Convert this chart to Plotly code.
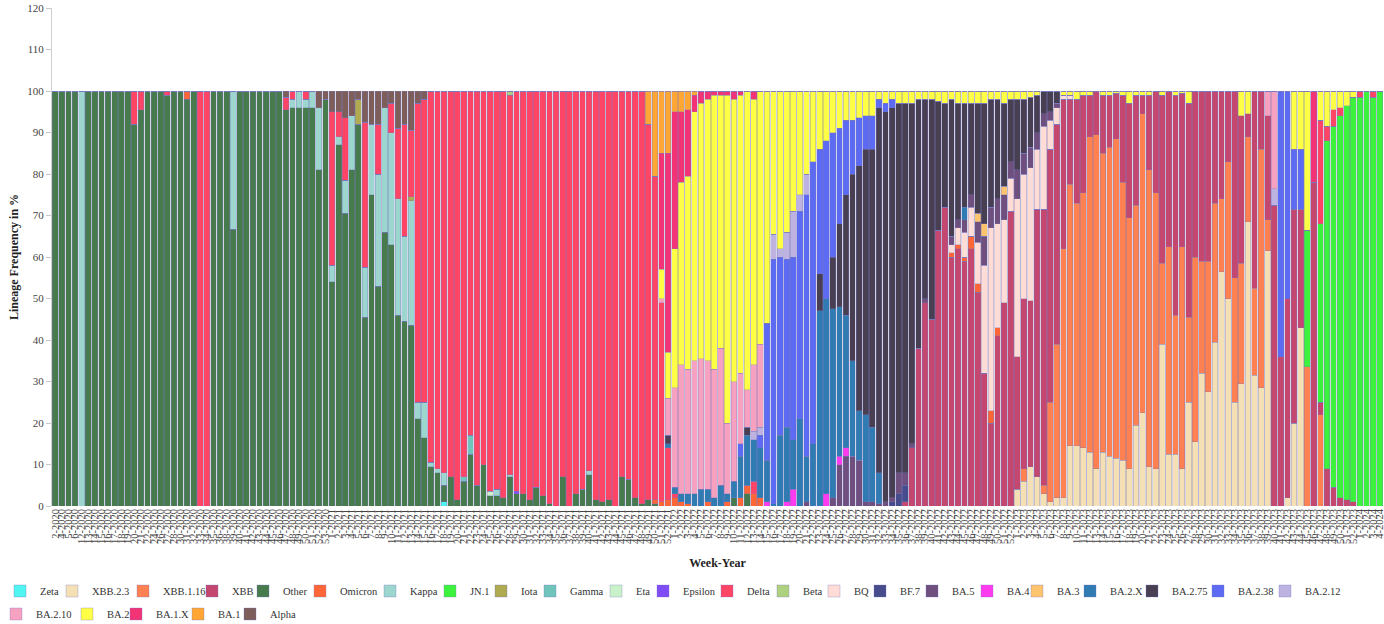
import plotly.graph_objects as go

# ---------------- categories (week-year) ----------------
WEEKS_2020 = [2, 4, 5, 6, 12, 13, 14, 15, 16, 17, 18, 19, 20, 21, 22, 24, 26, 27, 28, 30, 31, 32, 33, 34,
              35, 36, 38, 39, 40, 41, 42, 43, 44, 45, 46, 47, 48, 49, 50, 51, 52, 53]
WEEKS_2021 = list(range(1, 53))
WEEKS_2022 = list(range(1, 53))
WEEKS_2023 = list(range(1, 53))
WEEKS_2024 = [1, 2, 3, 4]
WEEK_LABELS = ([f"{w}-2020" for w in WEEKS_2020] + [f"{w}-2021" for w in WEEKS_2021] +
               [f"{w}-2022" for w in WEEKS_2022] + [f"{w}-2023" for w in WEEKS_2023] +
               [f"{w}-2024" for w in WEEKS_2024])

# ---------------- lineage frequencies (%) ----------------
ZETA = [0] * 59 + [1] + [0] * 142
XBB_2_3 = ([0] * 146 + [4, 6, 9.5, 7, 3, 1, 2, 2, 14.5, 14.5, 14, 13, 9, 13, 12, 11.5, 11, 9, 19.5, 22.5, 9.5, 9,
                        39, 12.5, 12.5, 9, 25, 15.5, 32, 27.5, 39.5, 56.5, 50, 25, 29.5, 68.5, 31.5, 28.5, 61.5,
                        0, 0, 2, 20, 43] + [0] * 12)
XBB_1_16 = ([0] * 147 + [3, 0, 0, 2, 24, 37, 60, 63, 58.5, 61.5, 76, 80.5, 72, 74.5, 77, 67, 60.5, 53, 72, 71.5,
                         66.5, 19.5, 50, 33.5, 53.5, 20.5, 44.5, 27, 31.5, 33.5, 17.5, 33, 30, 29, 20.5, 21,
                         57.5, 7.5] + [0] * 5 + [33.5, 0, 22] + [0] * 9)
XBB = ([0] * 129 + [1, 14, 38, 49, 45, 66.5, 72, 60, 62, 59, 62, 51.5, 32, 20, 41, 49, 71, 32, 41, 40, 64.5,
                    66.5, 61, 53, 36, 20.5, 25, 23.5, 10, 10.5, 14, 12.5, 11, 21, 27.5, 26.5, 4.5, 18, 24.5,
                    40.5, 37.5, 53, 37, 51.5, 40, 41, 41, 27, 26, 17, 45, 35.5, 5.5, 47.5, 14, 25, 72.5, 36,
                    48, 51.5, 28.5, 0, 78, 3, 9, 4.5, 2, 1.5, 1] + [0] * 4)
OTHER = ([100, 100, 100, 100, 0, 100, 100, 100, 100, 100, 100, 100, 92, 95.5, 100, 100, 100, 99, 100, 100, 98,
          100, 0, 0, 100, 100, 100, 66.7, 100, 100, 100, 100, 100, 100, 100, 95.5, 96, 96, 96, 96, 81, 98,
          54, 87, 70.5, 81, 92, 45.5, 75, 53, 66, 63, 46, 44.5, 43.5, 21, 16.5, 9.5, 8, 4, 7, 1.5, 6, 12.5, 5,
          10, 2.5, 2.5, 2, 7, 3, 3, 1.5, 4.5, 2.5, 0.5, 0, 7, 0, 3, 4, 7.5, 1.5, 1, 1.5, 0, 7, 6.5, 2, 0.5,
          1.5, 0.5] + [0] * 11 + [2, 0, 3] + [0] * 96)
OMICRON = ([0] * 20 + [2] + [0] * 70 + [1, 1, 1.5, 2, 1, 0.5, 0, 0, 1, 0, 0, 1, 0, 2, 2, 3, 2] + [0] * 28 +
           [1, 1, 1, 3, 2, 0, 3, 2] + [0] * 58)
KAPPA = ([0] * 4 + [100] + [0] * 22 + [33.3] + [0] * 8 +
         [2, 4, 2, 4, 15, 0, 4, 2, 8, 13, 0, 12, 17, 27, 30, 27, 28, 20.5, 30, 4, 8.5, 1, 1, 3] +
         [0] * 7 + [1.5, 0, 0.5] + [0] * 11 + [1] + [0] * 120)
JN_1 = [0] * 190 + [33, 0, 43, 79, 87, 92, 95, 97.5, 98.5, 100, 98.5, 100]
IOTA = [0] * 46 + [6] + [0] * 7 + [1] + [0] * 147
GAMMA = [0] * 62 + [1, 4.5] + [0] * 138
ETA = [0] * 66 + [1] + [0] * 135
EPSILON = [0] * 70 + [0.5] + [0] * 131
DELTA = ([0] * 12 + [8, 4.5, 0, 0, 0, 1, 0, 0, 0, 0, 100, 100] + [0] * 11 + [3, 2, 0, 2] + [0] * 3 +
         [37, 6, 15, 0, 0, 35, 0, 12, 0, 7, 17, 27, 16, 72, 73, 89.5, 91, 92, 93, 98.5, 93, 83, 95, 90, 96.5,
          96, 98, 91.5, 96.5, 97, 98.5, 95.5, 97.5, 99.5, 100, 93, 100, 97, 96, 91.5, 98.5, 99, 98.5, 100, 93,
          93.5, 98, 99.5, 90.5, 78, 48, 12.5, 1] +
         [0] * 11 + [3] + [0] * 85 + [25, 3.5, 4, 2, 0, 0, 1.5, 0, 1.5, 0])
BETA = [0] * 69 + [1] + [0] * 132
BQ = [0] * 136 + [2, 4, 6, 7, 10, 26, 44, 25, 20, 8, 38, 30, 32, 14.5, 20, 7, 4, 1, 1] + [0] * 47
BF_7 = [0] * 127 + [1, 3, 4] + [0] * 72
BA_5 = ([0] * 114 + [1, 0, 0, 0, 2, 10, 12, 12, 11, 1, 1, 0.5, 1, 1, 5, 3, 1, 0, 1, 0, 0, 0, 2, 2, 3, 3, 5, 7,
                     5, 6, 6, 4, 7, 5, 5, 4, 3, 2, 1] + [0] * 49)
BA_4 = [0] * 108 + [1, 0, 0, 1, 4, 0, 0, 0, 0, 3, 0, 2, 2] + [0] * 81
BA_3 = [0] * 140 + [2, 3, 0, 0, 2] + [0] * 57
BA_2_X = ([0] * 93 + [1, 1.5, 2, 2.5, 3, 4, 3, 2, 5, 2, 4, 10, 12, 10, 12, 10, 0.5, 17, 18, 12, 21, 11, 15, 47,
                      47, 45.5, 36, 32, 23, 12, 21, 18, 7.5] + [0] * 12 + [3] + [0] * 63)
BA_2_75 = ([0] * 93 + [2] + [0] * 11 + [2] + [0] * 10 +
           [9, 0, 12.5, 20, 29, 45, 59, 64, 67, 88, 94, 94, 89, 89, 82, 60, 48, 53, 31, 25, 33, 28, 25, 22,
            26.5, 29, 26, 24, 20, 15, 17, 13, 12, 9, 5.5, 5, 3] + [0] * 49)
BA_2_38 = ([0] * 104 + [3, 0, 0, 3, 33, 59, 43, 40.5, 44, 50, 63, 68, 30, 38, 30, 23, 18, 13, 11.5, 8, 8, 2, 2,
                        2] + [0] * 58 + [64, 50, 14.5, 14.5] + [0] * 12)
BA_2_12 = [0] * 106 + [2, 2, 0, 6, 2, 6.5, 11, 4, 5] + [0] * 70 + [4] + [0] * 16
BA_2_10 = ([0] * 92 + [1, 9, 24, 31, 30, 32, 31.5, 31, 31, 33, 17, 24, 17, 9, 16, 20] + [0] * 76 + [6, 23.5] +
           [0] * 16)
BA_2 = ([0] * 92 + [7, 11, 33.5, 44, 46.5, 60, 61.5, 63, 66, 61, 79, 68, 67, 72, 64, 61, 56, 34.5, 38, 34, 29,
                    25, 20, 17, 14, 12, 10, 9, 7, 7, 6.5, 6, 6, 2, 3, 2, 3, 3, 3, 2, 2, 2, 2.5, 3, 2, 3, 3, 3,
                    3, 3, 2, 2, 3, 2, 2, 2, 1.5, 1, 0, 0, 0, 1, 1, 2, 1, 1, 0, 1, 1, 0.5, 1, 3, 1, 1, 1, 0, 1,
                    0, 1, 0.5, 3] + [0] * 7 + [6, 5.5] + [0] * 6 + [14, 14, 33.5, 0, 7, 8.5, 4.5, 4, 3.5, 1.5] +
        [0] * 4)
BA_1_X = [0] * 92 + [28, 48, 33, 17, 16, 4, 3, 2, 1, 1, 1, 2, 1, 0, 2] + [0] * 84 + [22] + [0] * 10
BA_1 = [0] * 90 + [8, 20.5, 15, 15, 5, 5, 4.5, 1] + [0] * 104
ALPHA = [0] * 35 + [1.5] + [0] * 4 + [4, 2, 5, 5, 6.5, 6, 2, 7.5, 8, 8, 4, 3, 9, 8, 9.5, 3, 2] + [0] * 145

# stacking order (bottom -> top), same as legend order
SERIES_NAMES = ["Zeta", "XBB.2.3", "XBB.1.16", "XBB", "Other", "Omicron", "Kappa", "JN.1", "Iota", "Gamma",
                "Eta", "Epsilon", "Delta", "Beta", "BQ", "BF.7", "BA.5", "BA.4", "BA.3", "BA.2.X", "BA.2.75",
                "BA.2.38", "BA.2.12", "BA.2.10", "BA.2", "BA.1.X", "BA.1", "Alpha"]
SERIES_VALUES = [ZETA, XBB_2_3, XBB_1_16, XBB, OTHER, OMICRON, KAPPA, JN_1, IOTA, GAMMA, ETA, EPSILON, DELTA,
                 BETA, BQ, BF_7, BA_5, BA_4, BA_3, BA_2_X, BA_2_75, BA_2_38, BA_2_12, BA_2_10, BA_2, BA_1_X,
                 BA_1, ALPHA]

# ---------------- styles ----------------
COLORS = ["#4ff5f0", "#f5e0b5", "#ff8050", "#c4476f", "#477a4d", "#ff6637", "#9cd6ce", "#3df23d", "#b0aa50",
          "#6fc5bb", "#c9f2c9", "#7f4cf5", "#ff4566", "#add17f", "#ffdcd6", "#474c8c", "#6e4f7d", "#ff3bf0",
          "#ffc46e", "#317bb3", "#483f52", "#5c6bf2", "#bdb2e0", "#f7a1c0", "#ffff45", "#f23375", "#ffa635",
          "#7d5e5a"]
# legend entry layout: (swatch left in px, row centre in px)
LEGEND_SPOTS = [(20, 591), (72, 591), (143, 591), (212, 591), (263, 591), (320, 591), (390, 591), (450, 591),
                (501, 591), (550, 591), (616, 591), (663, 591), (727, 591), (783, 591), (834, 591), (880, 591),
                (932, 591), (987, 591), (1037, 591), (1090, 591), (1152, 591), (1218, 591), (1285, 591),
                (16, 614), (87, 614), (136, 614), (198, 614), (250, 614)]

W, H = 1384, 624
ML, MR, MT, MB = 52, 1, 8, 118
PW, PH = W - ML - MR, H - MT - MB

N = len(WEEK_LABELS)
for nm, vals in zip(SERIES_NAMES, SERIES_VALUES):
    assert len(vals) == N, (nm, len(vals), N)

fig = go.Figure()
legend_layouts = {}
for i, (nm, vals, col) in enumerate(zip(SERIES_NAMES, SERIES_VALUES, COLORS)):
    lid = "legend" if i == 0 else f"legend{i + 1}"
    fig.add_trace(go.Bar(
        x=WEEK_LABELS, y=vals, name=nm, legend=lid,
        marker=dict(color=col, line=dict(color="rgba(120,120,190,0.55)", width=0.6)),
    ))
    sx, sy = LEGEND_SPOTS[i]
    legend_layouts[lid] = dict(
        x=(sx - 20 - ML) / PW, xanchor="left",
        y=(H - MB - sy) / PH, yanchor="middle",
        orientation="h", bgcolor="rgba(0,0,0,0)", itemwidth=30,
        font=dict(family="Liberation Serif", size=10.5, color="#333"),
    )

fig.update_layout(
    width=W, height=H,
    barmode="stack", bargap=0.12,
    margin=dict(l=ML, r=MR, t=MT, b=MB, autoexpand=False),
    plot_bgcolor="white", paper_bgcolor="white",
    font=dict(family="Liberation Serif", size=11, color="#444"),
    showlegend=True,
    **legend_layouts,
)
fig.update_xaxes(
    type="category", tickmode="array", tickvals=WEEK_LABELS, ticktext=WEEK_LABELS,
    tickangle=-90, tickfont=dict(size=10.5, color="#444"),
    showgrid=False, showline=False, zeroline=False, ticks="",
    title=dict(text="<b>Week-Year</b>", font=dict(size=12, color="#222")),
    automargin=False,
)
fig.update_yaxes(
    range=[0, 120], dtick=10, tick0=0,
    showgrid=False, zeroline=False, showline=True, linecolor="#d0d0d0", linewidth=1,
    ticks="outside", ticklen=5, tickcolor="#c8c8c8",
    tickfont=dict(size=11, color="#444"),
    title=dict(text="<b>Lineage Frequency in %</b>", font=dict(size=12, color="#222"), standoff=6),
    automargin=False,
)

fig.write_html("out.html")
